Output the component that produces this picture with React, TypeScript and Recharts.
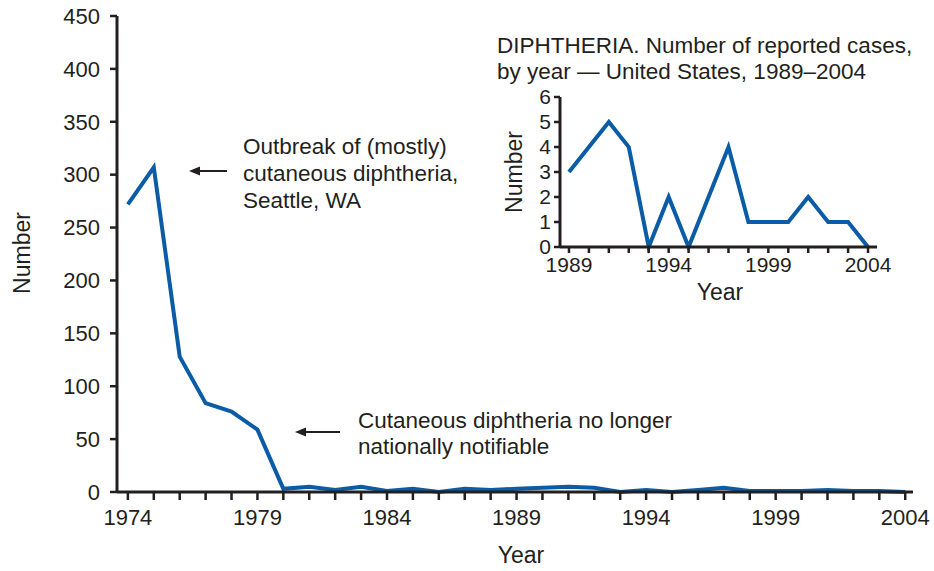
import { LineChart, Line, XAxis, YAxis } from 'recharts'

const years = [
  1974, 1975, 1976, 1977, 1978, 1979, 1980, 1981, 1982, 1983, 1984, 1985, 1986, 1987, 1988,
  1989, 1990, 1991, 1992, 1993, 1994, 1995, 1996, 1997, 1998, 1999, 2000, 2001, 2002, 2003, 2004,
]
const cases = [
  272, 307, 128, 84, 76, 59, 3, 5, 2, 5, 1, 3, 0, 3, 2,
  3, 4, 5, 4, 0, 2, 0, 2, 4, 1, 1, 1, 2, 1, 1, 0,
]
const insetYears = years.filter((y) => y >= 1989)
const insetCases = cases.slice(years.indexOf(1989))

const mainYTicks = [0, 50, 100, 150, 200, 250, 300, 350, 400, 450]
const mainXLabels = [1974, 1979, 1984, 1989, 1994, 1999, 2004]
const insetYTicks = [0, 1, 2, 3, 4, 5, 6]

const mainData = years.map((year, i) => ({ year, cases: cases[i] }))
const insetData = insetYears.map((year, i) => ({ year, cases: insetCases[i] }))

const INK = '#231f20'
const BLUE = '#0b5ca6'
const FONT = '"Liberation Sans", Arial, Helvetica, sans-serif'

function Arrow({ x1, x2, y }: { x1: number; x2: number; y: number }) {
  return (
    <g>
      <line x1={x1} y1={y} x2={x2 + 8} y2={y} stroke={INK} strokeWidth={2} />
      <polygon points={`${x2},${y} ${x2 + 11},${y - 4.5} ${x2 + 11},${y + 4.5}`} fill={INK} />
    </g>
  )
}

export default function App() {
  const tickStyle = { fill: INK, fontSize: 22, fontFamily: FONT }
  const axisLine = { stroke: INK, strokeWidth: 3 }
  const tickLine = { stroke: INK, strokeWidth: 2.5 }

  return (
    <div style={{ position: 'absolute', left: 0, top: 0, width: 934, height: 571, background: '#fff', fontFamily: FONT }}>
      <LineChart width={934} height={571} data={mainData} margin={{ top: 16, right: 21, left: 0, bottom: 0 }}>
        <XAxis
          dataKey="year"
          type="number"
          domain={[1973.58, 2004.3]}
          ticks={years}
          interval={0}
          tickFormatter={(v: number) => (mainXLabels.includes(v) ? String(v) : '')}
          height={79}
          tickSize={8}
          tickMargin={9}
          tick={tickStyle}
          axisLine={axisLine}
          tickLine={tickLine}
        />
        <XAxis xAxisId="top" orientation="top" dataKey="year" type="number" domain={[1973.58, 2004.3]} height={0} tick={false} tickLine={false} axisLine={axisLine} />
        <YAxis
          domain={[0, 450]}
          ticks={mainYTicks}
          interval={0}
          width={117}
          tickSize={7}
          tickMargin={10}
          tick={tickStyle}
          axisLine={axisLine}
          tickLine={tickLine}
        />
        <YAxis yAxisId="right" orientation="right" width={0} tick={false} tickLine={false} axisLine={axisLine} />
        <Line dataKey="cases" stroke={BLUE} strokeWidth={4} dot={false} isAnimationActive={false} strokeLinejoin="miter" />
      </LineChart>

      <div style={{ position: 'absolute', left: 490, top: 80 }}>
        <LineChart width={420} height={230} data={insetData} margin={{ top: 17, right: 33, left: 0, bottom: 0 }}>
          <XAxis
            dataKey="year"
            type="number"
            domain={[1988.55, 2004.45]}
            ticks={insetYears}
            interval={0}
            tickFormatter={(v: number) => ((v - 1989) % 5 === 0 ? String(v) : '')}
            height={63}
            tickSize={6}
            tickMargin={4}
            tick={{ ...tickStyle, fontSize: 21 }}
            axisLine={axisLine}
            tickLine={tickLine}
          />
          <XAxis xAxisId="top" orientation="top" dataKey="year" type="number" domain={[1988.55, 2004.45]} height={0} tick={false} tickLine={false} axisLine={axisLine} />
          <YAxis
            domain={[0, 6]}
            ticks={insetYTicks}
            interval={0}
            width={70}
            tickSize={6}
            tickMargin={3}
            tick={{ ...tickStyle, fontSize: 21 }}
            axisLine={axisLine}
            tickLine={tickLine}
          />
          <YAxis yAxisId="right" orientation="right" width={0} tick={false} tickLine={false} axisLine={axisLine} />
          <Line dataKey="cases" stroke={BLUE} strokeWidth={4} dot={false} isAnimationActive={false} strokeLinejoin="miter" />
        </LineChart>
      </div>

      <svg width={934} height={571} style={{ position: 'absolute', left: 0, top: 0, pointerEvents: 'none' }}>
        <g fill={INK} fontSize={22.5} fontFamily={FONT} dominantBaseline="central">
          <text x={243} y={146}>Outbreak of (mostly)</text>
          <text x={243} y={173}>cutaneous diphtheria,</text>
          <text x={243} y={200}>Seattle, WA</text>
          <text x={358} y={420}>Cutaneous diphtheria no longer</text>
          <text x={358} y={446}>nationally notifiable</text>
          <text x={497} y={45}>DIPHTHERIA. Number of reported cases,</text>
          <text x={497} y={71}>by year — United States, 1989–2004</text>
        </g>
        <g fill={INK} fontSize={23} fontFamily={FONT} dominantBaseline="central" textAnchor="middle">
          <text x={521} y={555}>Year</text>
          <text x={22} y={253} transform="rotate(-90 22 253)">Number</text>
          <text x={720} y={292}>Year</text>
          <text x={514} y={172} transform="rotate(-90 514 172)">Number</text>
        </g>
        <Arrow x1={227} x2={189} y={171} />
        <Arrow x1={340} x2={295} y={432} />
      </svg>
    </div>
  )
}
